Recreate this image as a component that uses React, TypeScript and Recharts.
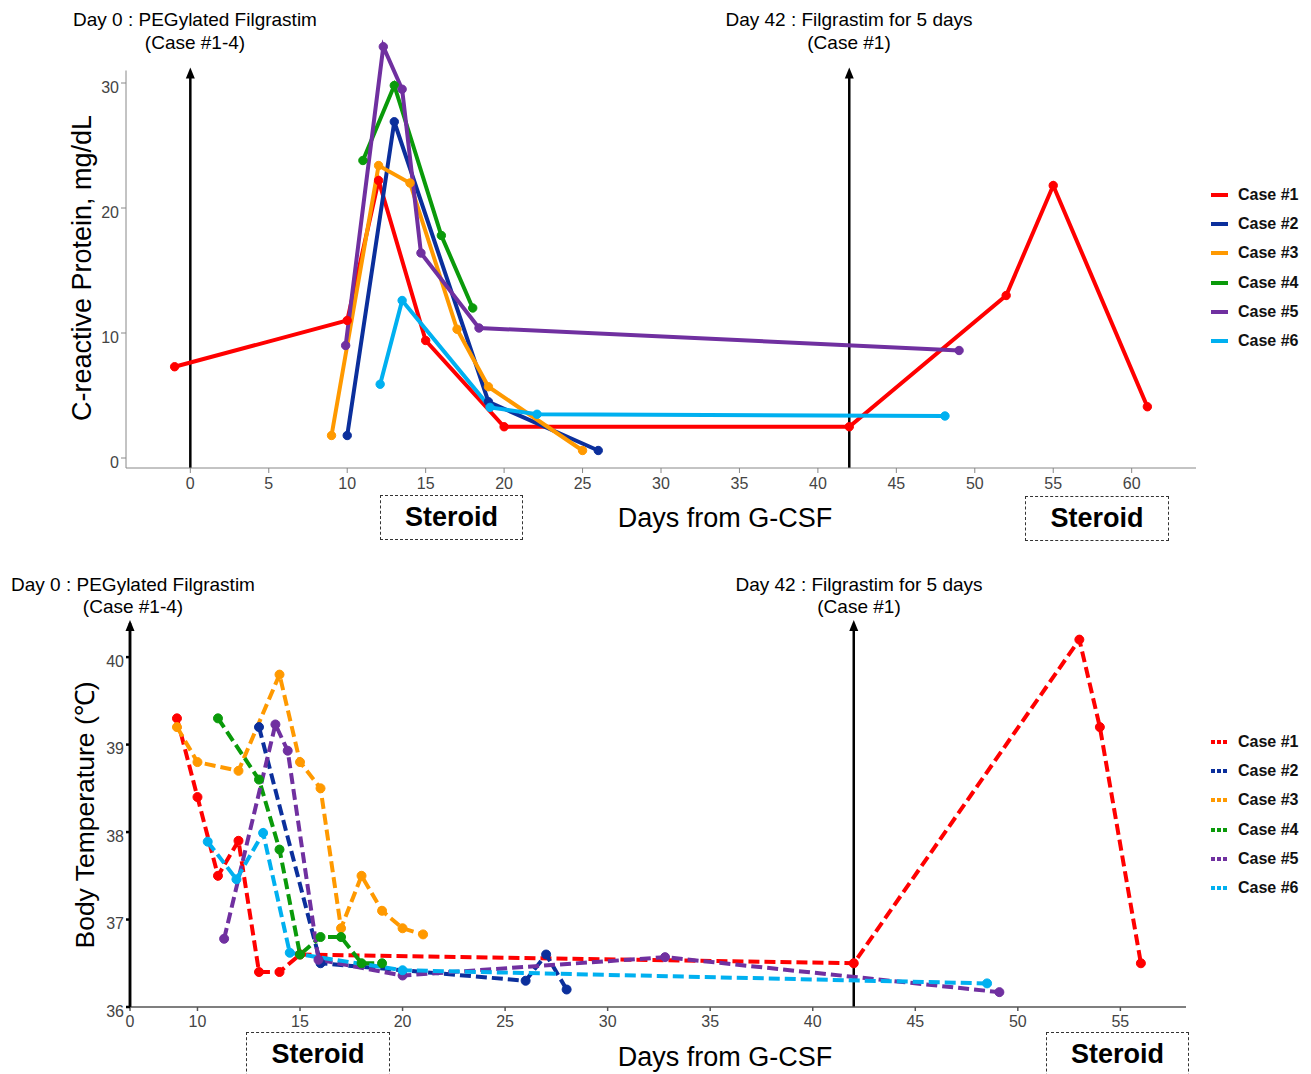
import React from "react";
import { LineChart, Line, XAxis, YAxis, ReferenceLine } from "recharts";

const FONT = '"Liberation Sans", Arial, sans-serif';

const caseNames = ["Case #1", "Case #2", "Case #3", "Case #4", "Case #5", "Case #6"];
const caseColors = ["#FF0000", "#0B2F9C", "#FF9900", "#0A9A0A", "#7030A0", "#00B0F0"];

// CRP (top)
const crpDays1 = [-1, 10, 12, 15, 20, 42, 52, 55, 61];
const crpVals1 = [7.3, 11, 22.2, 9.4, 2.5, 2.5, 13, 21.8, 4.1];
const crpDays2 = [10, 13, 19, 26];
const crpVals2 = [1.8, 26.9, 4.5, 0.6];
const crpDays3 = [9, 12, 14, 17, 19, 25];
const crpVals3 = [1.8, 23.4, 22.0, 10.3, 5.7, 0.6];
const crpDays4 = [11, 13, 16, 18];
const crpVals4 = [23.8, 29.8, 17.8, 12.0];
const crpDays5 = [9.9, 12.3, 13.5, 14.7, 18.4, 49];
const crpVals5 = [9.0, 32.9, 29.5, 16.4, 10.4, 8.6];
const crpDays6 = [12.1, 13.5, 19.1, 22.1, 48.1];
const crpVals6 = [5.9, 12.6, 4.05, 3.5, 3.36];

// Body temperature (bottom)
const tDays1 = [9, 10, 11, 12, 13, 14, 15, 42, 53, 54, 56];
const tVals1 = [39.3, 38.4, 37.5, 37.9, 36.4, 36.4, 36.6, 36.5, 40.2, 39.2, 36.5];
const tDays2 = [13, 16, 26, 27, 28];
const tVals2 = [39.2, 36.5, 36.3, 36.6, 36.2];
const tDays3 = [9, 10, 12, 14, 15, 16, 17, 18, 19, 20, 21];
const tVals3 = [39.2, 38.8, 38.7, 39.8, 38.8, 38.5, 36.9, 37.5, 37.1, 36.9, 36.83];
const tDays4 = [11, 13, 14, 15, 16, 17, 18, 19];
const tVals4 = [39.3, 38.6, 37.8, 36.6, 36.8, 36.8, 36.5, 36.5];
const tDays5 = [11.3, 13.8, 14.4, 15.9, 20, 32.8, 49.1];
const tVals5 = [36.78, 39.23, 38.93, 36.54, 36.36, 36.57, 36.17];
const tDays6 = [10.5, 11.9, 13.2, 14.5, 20, 48.5];
const tVals6 = [37.89, 37.46, 37.99, 36.62, 36.42, 36.27];

const crpXTicks = [0, 5, 10, 15, 20, 25, 30, 35, 40, 45, 50, 55, 60];
const crpYTicks = [0, 10, 20, 30];
const CRP_X_MIN = -4.1;
const CRP_X_MAX = 64.1;
const CRP_Y_MIN = -0.8;
const CRP_AXIS_TOP = 31;
const CRP_Y_MAX = 34;
// bottom axis is broken: day 0 is drawn at the compressed position BREAK_ZERO
const BREAK_ZERO = 6.71;
const tXTicks = [BREAK_ZERO, 10, 15, 20, 25, 30, 35, 40, 45, 50, 55];
const tYTicks = [36, 37, 38, 39, 40];
const G_CSF_DAYS = [0, 42];

const zip = (d: number[], v: number[]) => d.map((x, i) => ({ day: x, v: v[i] }));

const crpSeries = [
  zip(crpDays1, crpVals1), zip(crpDays2, crpVals2), zip(crpDays3, crpVals3),
  zip(crpDays4, crpVals4), zip(crpDays5, crpVals5), zip(crpDays6, crpVals6),
];
const tSeries = [
  zip(tDays1, tVals1), zip(tDays2, tVals2), zip(tDays3, tVals3),
  zip(tDays4, tVals4), zip(tDays5, tVals5), zip(tDays6, tVals6),
];

const ArrowLine = (props: any) => {
  const { x1, y1, x2, y2 } = props;
  const top = Math.min(y1, y2);
  const bot = Math.max(y1, y2);
  const x = x1 ?? x2;
  return (
    <g>
      <line x1={x} y1={bot} x2={x} y2={top + 6} stroke="#000" strokeWidth={2.5} />
      <polygon points={`${x - 4.5},${top + 8} ${x + 4.5},${top + 8} ${x},${top - 3}`} fill="#000" />
    </g>
  );
};

const LegendBox = ({ x, y, dashed }: any) => (
  <div style={{ position: "absolute", left: x, top: y, fontFamily: FONT }}>
    {caseNames.map((n, i) => (
      <div key={n} style={{ display: "flex", alignItems: "center", height: 29.3 }}>
        <svg width={20} height={8} style={{ marginRight: 8 }}>
          <line x1={1} y1={4} x2={18} y2={4} stroke={caseColors[i]} strokeWidth={4}
            strokeDasharray={dashed ? "4 2" : undefined} />
        </svg>
        <span style={{ fontWeight: "bold", fontSize: 16, color: "#111" }}>{n}</span>
      </div>
    ))}
  </div>
);

const xTickStyle = { fontSize: 16, fill: "#444", fontFamily: FONT, dy: 3 };
const yTickStyle = { fontSize: 16, fill: "#444", fontFamily: FONT, dy: 4 };

const Abs = ({ x, y, w, h, children, style }: any) => (
  <div style={{ position: "absolute", left: x, top: y, width: w, height: h, display: "flex",
    alignItems: "center", justifyContent: "center", fontFamily: FONT, whiteSpace: "nowrap", ...style }}>{children}</div>
);

const boxStyle = { border: "1px dashed #333", boxSizing: "border-box", fontSize: 27, fontWeight: "bold" };

export default function App() {
  return (
    <div style={{ position: "absolute", left: 0, top: 0, width: 1311, height: 1074, background: "#fff", overflow: "hidden" }}>
      {/* Top chart */}
      <div style={{ position: "absolute", left: 0, top: 0 }}>
        <LineChart width={1311} height={520} margin={{ top: 33, right: 115, bottom: 22, left: 66 }}>
          <XAxis type="number" dataKey="day" domain={[CRP_X_MIN, CRP_X_MAX]} ticks={crpXTicks} allowDataOverflow
            stroke="#888" tick={xTickStyle} tickSize={5} height={30} />
          <YAxis type="number" domain={[CRP_Y_MIN, CRP_Y_MAX]} ticks={crpYTicks} allowDataOverflow
            axisLine={false} stroke="#888" tick={yTickStyle} tickSize={5} width={60} />
          <ReferenceLine segment={[{ x: CRP_X_MIN, y: CRP_Y_MIN }, { x: CRP_X_MIN, y: CRP_AXIS_TOP }]}
            stroke="#888" strokeWidth={1} ifOverflow="visible" />
          {G_CSF_DAYS.map((d) => (
            <ReferenceLine key={d} segment={[{ x: d, y: CRP_Y_MIN }, { x: d, y: CRP_AXIS_TOP }]}
              shape={ArrowLine} ifOverflow="visible" />
          ))}
          {crpSeries.map((s, i) => (
            <Line key={i} data={s} dataKey="v" name={caseNames[i]} type="linear" stroke={caseColors[i]}
              strokeWidth={4} dot={{ r: 4.2, fill: caseColors[i], stroke: caseColors[i], strokeWidth: 1 }}
              isAnimationActive={false} />
          ))}
        </LineChart>
      </div>

      {/* Bottom chart */}
      <div style={{ position: "absolute", left: 0, top: 560 }}>
        <LineChart width={1311} height={514} margin={{ top: 63, right: 125, bottom: 37, left: 70 }}>
          <XAxis type="number" dataKey="day" domain={[BREAK_ZERO, 58.2]} ticks={tXTicks} allowDataOverflow
            stroke="#555" strokeWidth={1.5} tick={xTickStyle} tickSize={4} height={30}
            tickFormatter={(v: number) => (v === BREAK_ZERO ? "0" : String(v))} />
          <YAxis type="number" domain={[36, 40.39]} ticks={tYTicks} allowDataOverflow
            stroke="#000" strokeWidth={2.5} tick={yTickStyle} tickSize={4} width={60} />
          <ReferenceLine x={BREAK_ZERO} shape={ArrowLine} ifOverflow="visible" />
          <ReferenceLine x={G_CSF_DAYS[1]} shape={ArrowLine} ifOverflow="visible" />
          {tSeries.map((s, i) => (
            <Line key={i} data={s} dataKey="v" name={caseNames[i]} type="linear" stroke={caseColors[i]}
              strokeWidth={4} strokeDasharray="11 5"
              dot={{ r: 4.5, fill: caseColors[i], stroke: caseColors[i], strokeWidth: 1, strokeDasharray: "0" }}
              isAnimationActive={false} />
          ))}
        </LineChart>
      </div>

      <LegendBox x={1210} y={180} dashed={false} />
      <LegendBox x={1210} y={727} dashed={true} />

      {/* Annotations: top */}
      <Abs x={45} y={8} w={300} h={24} style={{ fontSize: 19 }}>Day 0 : PEGylated Filgrastim</Abs>
      <Abs x={45} y={31} w={300} h={24} style={{ fontSize: 19 }}>(Case #1-4)</Abs>
      <Abs x={699} y={8} w={300} h={24} style={{ fontSize: 19 }}>Day 42 : Filgrastim for 5 days</Abs>
      <Abs x={699} y={31} w={300} h={24} style={{ fontSize: 19 }}>(Case #1)</Abs>
      <div style={{ position: "absolute", left: 82, top: 268, transform: "translate(-50%,-50%) rotate(-90deg)",
        whiteSpace: "nowrap", fontFamily: FONT, fontSize: 27 }}>C-reactive Protein, mg/dL</div>
      <Abs x={380} y={495} w={143} h={45} style={boxStyle}>Steroid</Abs>
      <Abs x={1025} y={496} w={144} h={45} style={boxStyle}>Steroid</Abs>
      <Abs x={575} y={503} w={300} h={30} style={{ fontSize: 27 }}>Days from G-CSF</Abs>

      {/* Annotations: bottom */}
      <Abs x={-17} y={573} w={300} h={24} style={{ fontSize: 19 }}>Day 0 : PEGylated Filgrastim</Abs>
      <Abs x={-17} y={595} w={300} h={24} style={{ fontSize: 19 }}>(Case #1-4)</Abs>
      <Abs x={709} y={573} w={300} h={24} style={{ fontSize: 19 }}>Day 42 : Filgrastim for 5 days</Abs>
      <Abs x={709} y={595} w={300} h={24} style={{ fontSize: 19 }}>(Case #1)</Abs>
      <div style={{ position: "absolute", left: 84, top: 815, transform: "translate(-50%,-50%) rotate(-90deg)",
        whiteSpace: "nowrap", fontFamily: FONT, fontSize: 26.5 }}>Body Temperature (℃)</div>
      <Abs x={246} y={1032} w={144} h={50} style={{ ...boxStyle, alignItems: "flex-start", paddingTop: 6 }}>Steroid</Abs>
      <Abs x={1046} y={1032} w={143} h={50} style={{ ...boxStyle, alignItems: "flex-start", paddingTop: 6 }}>Steroid</Abs>
      <Abs x={575} y={1042} w={300} h={30} style={{ fontSize: 27 }}>Days from G-CSF</Abs>
    </div>
  );
}
